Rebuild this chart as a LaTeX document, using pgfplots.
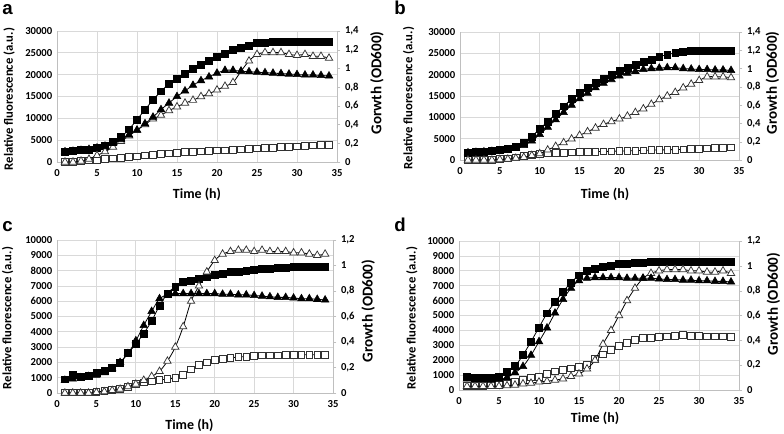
\documentclass[border=0pt]{standalone}
\usepackage{fontspec}
\setmainfont{Carlito}
\newfontfamily\letterfont{Liberation Sans}
\usepackage{pgfplots}
\usepackage{pgfplotstable}
\pgfplotsset{compat=1.18}

% t  fs = filled squares, os = open squares (left axis)
%    ft = filled triangles, ot = open triangles (right axis, OD600)
\pgfplotstableread{
t fs os ft ot
1 2300 50 0.11 0.00
2 2500 100 0.115 0.00
3 2700 250 0.125 0.01
4 2900 400 0.135 0.03
5 3200 550 0.15 0.07
6 3800 700 0.17 0.11
7 4600 850 0.20 0.16
8 5700 1000 0.24 0.22
9 7500 1150 0.29 0.28
10 9700 1300 0.34 0.34
11 12000 1500 0.41 0.40
12 14200 1700 0.48 0.46
13 16200 1850 0.56 0.50
14 17900 2000 0.63 0.55
15 19100 2100 0.70 0.59
16 20300 2250 0.76 0.63
17 21400 2350 0.82 0.66
18 22300 2450 0.87 0.70
19 23200 2550 0.91 0.73
20 24000 2650 0.95 0.77
21 24800 2700 0.98 0.81
22 25600 2800 0.98 0.85
23 26200 2900 0.97 0.97
24 26700 3000 0.965 1.08
25 27200 3100 0.96 1.15
26 27400 3200 0.955 1.17
27 27500 3300 0.95 1.17
28 27500 3400 0.945 1.17
29 27600 3500 0.94 1.15
30 27600 3600 0.935 1.14
31 27600 3700 0.93 1.15
32 27600 3800 0.93 1.13
33 27600 3850 0.925 1.13
34 27600 3900 0.92 1.11
}\tabA

\pgfplotstableread{
t fs os ft ot
1 1800 0 0.08 0.00
2 1900 0 0.085 0.00
3 2000 50 0.09 0.00
4 2100 100 0.095 0.00
5 2300 200 0.10 0.005
6 2600 400 0.11 0.01
7 3100 600 0.13 0.02
8 4000 900 0.16 0.03
9 5500 1200 0.21 0.05
10 7300 1400 0.28 0.07
11 9000 1550 0.36 0.11
12 10800 1650 0.44 0.15
13 12600 1700 0.52 0.19
14 14300 1800 0.60 0.23
15 15700 1850 0.67 0.27
16 17000 1900 0.73 0.31
17 18000 1950 0.79 0.35
18 19000 2000 0.84 0.39
19 19900 2050 0.88 0.42
20 21000 2100 0.92 0.45
21 21700 2150 0.95 0.48
22 22400 2200 0.97 0.52
23 23000 2250 0.99 0.56
24 23600 2300 1.00 0.61
25 24200 2350 1.005 0.66
26 24700 2400 1.01 0.70
27 25100 2450 1.01 0.74
28 25400 2500 1.00 0.79
29 25600 2550 0.995 0.83
30 25700 2650 0.99 0.87
31 25700 2700 0.99 0.91
32 25700 2800 0.985 0.91
33 25700 2850 0.985 0.91
34 25700 2950 0.98 0.90
}\tabB

\pgfplotstableread{
t fs os ft ot
1 900 50 0.10 0.00
2 1200 50 0.11 0.00
3 1050 50 0.12 0.00
4 1100 50 0.13 0.00
5 1300 80 0.14 0.005
6 1450 120 0.16 0.01
7 1650 200 0.19 0.02
8 2000 280 0.24 0.03
9 2600 380 0.31 0.05
10 3200 600 0.41 0.07
11 3900 700 0.53 0.10
12 4700 780 0.64 0.13
13 5700 850 0.74 0.17
14 6500 920 0.77 0.25
15 6950 980 0.78 0.36
16 7250 1200 0.78 0.52
17 7350 1550 0.78 0.72
18 7450 1850 0.78 0.84
19 7600 2000 0.78 0.95
20 7700 2150 0.78 1.04
21 7800 2250 0.775 1.09
22 7900 2300 0.775 1.11
23 7950 2350 0.77 1.12
24 8000 2380 0.77 1.12
25 8050 2420 0.765 1.11
26 8100 2450 0.76 1.12
27 8150 2460 0.755 1.11
28 8200 2470 0.75 1.11
29 8200 2480 0.75 1.11
30 8250 2490 0.745 1.10
31 8250 2500 0.74 1.10
32 8250 2500 0.74 1.09
33 8250 2500 0.735 1.08
34 8250 2500 0.73 1.09
}\tabC

\pgfplotstableread{
t fs os ft ot
1 900 300 0.09 0.03
2 850 300 0.085 0.03
3 850 300 0.085 0.03
4 800 350 0.08 0.03
5 900 400 0.085 0.03
6 1200 450 0.10 0.035
7 1600 550 0.14 0.04
8 2350 700 0.19 0.05
9 3250 850 0.28 0.055
10 4200 900 0.39 0.065
11 5150 1100 0.50 0.07
12 5900 1250 0.62 0.08
13 6600 1350 0.73 0.09
14 7200 1450 0.82 0.11
15 7700 1550 0.88 0.13
16 8000 1700 0.90 0.17
17 8150 2100 0.905 0.24
18 8250 2400 0.905 0.37
19 8350 2700 0.905 0.48
20 8450 2950 0.905 0.60
21 8500 3150 0.90 0.72
22 8550 3350 0.90 0.82
23 8550 3500 0.90 0.90
24 8600 3500 0.90 0.94
25 8600 3550 0.895 0.96
26 8600 3600 0.89 0.97
27 8600 3650 0.89 0.97
28 8600 3700 0.885 0.97
29 8600 3650 0.885 0.96
30 8600 3650 0.88 0.96
31 8600 3600 0.88 0.95
32 8600 3600 0.875 0.95
33 8600 3600 0.875 0.96
34 8600 3550 0.87 0.94
}\tabD

\definecolor{gridc}{RGB}{217,217,217}
\definecolor{axc}{RGB}{191,191,191}
\definecolor{openc}{RGB}{50,50,50}

\pgfplotsset{
  base/.style={scale only axis, xmin=0, xmax=35, xtick={0,5,...,35}, ymin=0,
    /pgf/number format/assume math mode=true,
    /pgf/number format/1000 sep={},
    scaled y ticks=false,
    ticklabel style={font=\bfseries\fontsize{8}{9}\selectfont},
    label style={font=\bfseries\fontsize{9.5}{11}\selectfont},
    xlabel style={font=\bfseries\fontsize{10.5}{12}\selectfont}},
  leftax/.style={base, axis x line*=bottom, axis y line*=left,
    axis line style={draw=axc, -}, grid=major,
    major grid style={draw=gridc, line width=0.6pt},
    major tick length=0pt, xticklabel style={yshift=-2pt}},
  rightax/.style={base, axis x line=none, axis y line*=right,
    axis line style={draw=axc, -}, ytick style={draw=axc},
    tick align=outside, major tick length=2.5pt,
    ylabel style={font=\bfseries\fontsize{11.3}{13}\selectfont},
    /pgf/number format/use comma, /pgf/number format/fixed,
    /pgf/number format/precision=1},
  fsq/.style={only marks, mark=square*, mark size=2.6pt, mark options={fill=black, draw=black}},
  osq/.style={only marks, mark=square*, mark size=2.5pt, mark options={fill=white, draw=openc, line width=0.55pt}},
  ftr/.style={only marks, mark=triangle*, mark size=3.3pt, mark options={fill=black, draw=black}},
  otr/.style={only marks, mark=triangle*, mark size=3.2pt, mark options={fill=white, draw=openc, line width=0.55pt}},
  fit/.style={smooth, black, line width=0.6pt, no marks},
}

\begin{document}
\begin{tikzpicture}
\path[use as bounding box] (0pt,0pt) rectangle (588pt,324.75pt);

% ---- a ----
\begin{axis}[leftax, at={(42.75pt,203.25pt)}, anchor=south west, width=210pt, height=98.25pt,
  ymax=30000, ytick={0,5000,...,30000},
  xlabel={Time (h)}, ylabel={Relative fluorescence (a.u.)},
  xlabel style={at={(axis description cs:0.5,-0.244)}, anchor=center},
  ylabel style={at={(axis description cs:-0.171,0.481)}, anchor=center}]
\addplot[osq] table[x=t,y=os]{\tabA};
\addplot[fit] table[x=t,y=os]{\tabA};
\addplot[fsq] table[x=t,y=fs]{\tabA};
\addplot[fit] table[x=t,y=fs]{\tabA};
\end{axis}
\begin{axis}[rightax, at={(42.75pt,203.25pt)}, anchor=south west, width=210pt, height=98.25pt,
  ymax=1.4, ytick={0,0.2,0.4,0.6,0.8,1,1.2,1.4},
  ylabel={Gorwth (OD600)},
  ylabel style={at={(axis description cs:1.143,0.603)}, anchor=center}]
\addplot[otr] table[x=t,y=ot]{\tabA};
\addplot[fit] table[x=t,y=ot]{\tabA};
\addplot[ftr] table[x=t,y=ft]{\tabA};
\addplot[fit] table[x=t,y=ft]{\tabA};
\end{axis}

% ---- b ----
\begin{axis}[leftax, at={(345pt,204.75pt)}, anchor=south west, width=209.25pt, height=96pt,
  ymax=30000, ytick={0,5000,...,30000},
  xlabel={Time (h)}, ylabel={Relative fluorescence (a.u.)},
  xlabel style={at={(axis description cs:0.52,-0.266)}, anchor=center},
  ylabel style={at={(axis description cs:-0.184,0.484)}, anchor=center}]
\addplot[osq] table[x=t,y=os]{\tabB};
\addplot[fit] table[x=t,y=os]{\tabB};
\addplot[fsq] table[x=t,y=fs]{\tabB};
\addplot[fit] table[x=t,y=fs]{\tabB};
\end{axis}
\begin{axis}[rightax, at={(345pt,204.75pt)}, anchor=south west, width=209.25pt, height=96pt,
  ymax=1.4, ytick={0,0.2,0.4,0.6,0.8,1,1.2,1.4},
  ylabel={Growth (OD600)},
  ylabel style={at={(axis description cs:1.12,0.602)}, anchor=center}]
\addplot[otr] table[x=t,y=ot]{\tabB};
\addplot[fit] table[x=t,y=ot]{\tabB};
\addplot[ftr] table[x=t,y=ft]{\tabB};
\addplot[fit] table[x=t,y=ft]{\tabB};
\end{axis}

% ---- c ----
\begin{axis}[leftax, at={(42.75pt,30pt)}, anchor=south west, width=207pt, height=114.75pt,
  ymax=10000, ytick={0,1000,...,10000},
  xlabel={Time (h)}, ylabel={Relative fluorescence (a.u.)},
  xlabel style={at={(axis description cs:0.48,-0.209)}, anchor=center},
  ylabel style={at={(axis description cs:-0.179,0.49)}, anchor=center}]
\addplot[osq] table[x=t,y=os]{\tabC};
\addplot[fit] table[x=t,y=os]{\tabC};
\addplot[fsq] table[x=t,y=fs]{\tabC};
\addplot[fit] table[x=t,y=fs]{\tabC};
\end{axis}
\begin{axis}[rightax, at={(42.75pt,30pt)}, anchor=south west, width=207pt, height=114.75pt,
  ymax=1.2, ytick={0,0.2,0.4,0.6,0.8,1,1.2},
  ylabel={Growth (OD600)},
  ylabel style={at={(axis description cs:1.127,0.536)}, anchor=center}]
\addplot[otr] table[x=t,y=ot]{\tabC};
\addplot[fit] table[x=t,y=ot]{\tabC};
\addplot[ftr] table[x=t,y=ft]{\tabC};
\addplot[fit] table[x=t,y=ft]{\tabC};
\end{axis}

% ---- d ----
\begin{axis}[leftax, at={(344.25pt,32.25pt)}, anchor=south west, width=210pt, height=111.75pt,
  ymax=10000, ytick={0,1000,...,10000},
  xlabel={Time (h)}, ylabel={Relative fluorescence (a.u.)},
  xlabel style={at={(axis description cs:0.486,-0.188)}, anchor=center},
  ylabel style={at={(axis description cs:-0.168,0.483)}, anchor=center}]
\addplot[osq] table[x=t,y=os]{\tabD};
\addplot[fit] table[x=t,y=os]{\tabD};
\addplot[fsq] table[x=t,y=fs]{\tabD};
\addplot[fit] table[x=t,y=fs]{\tabD};
\end{axis}
\begin{axis}[rightax, at={(344.25pt,32.25pt)}, anchor=south west, width=210pt, height=111.75pt,
  ymax=1.2, ytick={0,0.2,0.4,0.6,0.8,1,1.2},
  ylabel={Growth (OD600)},
  ylabel style={at={(axis description cs:1.123,0.577)}, anchor=center}]
\addplot[otr] table[x=t,y=ot]{\tabD};
\addplot[fit] table[x=t,y=ot]{\tabD};
\addplot[ftr] table[x=t,y=ft]{\tabD};
\addplot[fit] table[x=t,y=ft]{\tabD};
\end{axis}

\begin{scope}[every node/.style={anchor=base west, inner sep=0pt, font=\letterfont\bfseries\fontsize{14}{16}\selectfont}]
\node at (1.5pt,313.5pt) {a};
\node at (295.5pt,313.5pt) {b};
\node at (1.5pt,151.5pt) {c};
\node at (295.5pt,151.5pt) {d};
\end{scope}
\end{tikzpicture}
\end{document}
